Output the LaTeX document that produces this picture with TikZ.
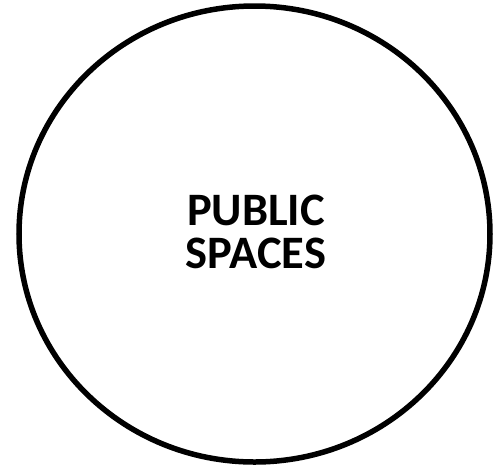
\documentclass[tikz,border=0pt]{standalone}
\usepackage{fontspec}
\setmainfont{Carlito}
\usetikzlibrary{shapes.geometric}
\begin{document}
\begin{tikzpicture}[x=1pt,y=-1pt,
  ring/.style={draw=black,line width=5.5pt,ellipse,minimum width=471pt,minimum height=456pt,inner sep=0pt},
  label/.style={align=center,font=\bfseries\fontsize{46.5}{43}\selectfont,inner sep=0pt}]
\useasboundingbox (0,0) rectangle (496,467);
\node[ring] (circ) at (254.5,234) {};
\node[label] (txt) at (256,231.5) {PUBLIC\\SPACES};
\end{tikzpicture}
\end{document}
